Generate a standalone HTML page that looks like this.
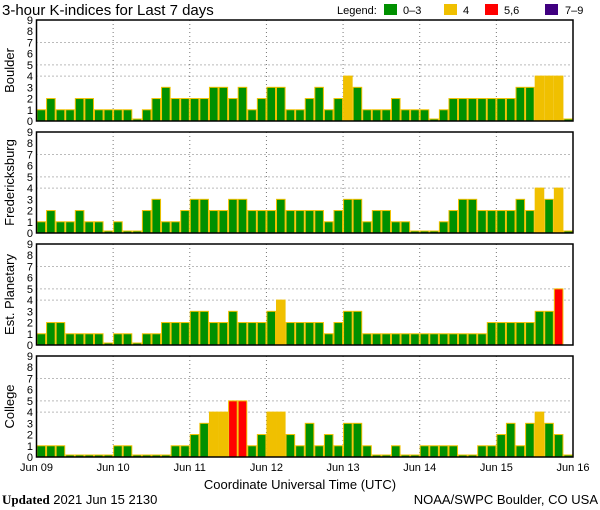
<!DOCTYPE html>
<html><head><meta charset="utf-8"><style>
body{margin:0;background:#fff}
svg{display:block;font-family:"Liberation Sans",sans-serif}
</style></head><body>
<svg id="c" width="600" height="510" viewBox="0 0 600 510">
<text x="2" y="15" font-size="15">3-hour K-indices for Last 7 days</text>
<g font-size="11">
<text x="337" y="14">Legend:</text>
<rect x="384" y="4" width="13" height="11" fill="#009000"/><text x="403" y="14">0–3</text>
<rect x="444" y="4" width="13" height="11" fill="#f0c000"/><text x="463" y="14">4</text>
<rect x="485" y="4" width="13" height="11" fill="#ff0000"/><text x="504" y="14">5,6</text>
<rect x="545" y="4" width="13" height="11" fill="#400080"/><text x="565" y="14">7–9</text>
</g>
<text x="300" y="489" font-size="13" text-anchor="middle">Coordinate Universal Time (UTC)</text>
<text x="2" y="504" font-size="13"><tspan font-weight="bold" font-family="Liberation Serif,serif">Updated</tspan> 2021 Jun 15 2130</text>
<text x="598" y="504" font-size="13" text-anchor="end">NOAA/SWPC Boulder, CO USA</text>
</svg>
<script>
const stations = ["Boulder","Fredericksburg","Est. Planetary","College"];
const dayLabels = ["Jun 09","Jun 10","Jun 11","Jun 12","Jun 13","Jun 14","Jun 15","Jun 16"];
const yTicks = [0,1,2,3,4,5,6,7,8,9];
const boulder = [1,2,1,1,2,2,1,1, 1,1,0,1,2,3,2,2, 2,2,3,3,2,3,1,2, 3,3,1,1,2,3,1,2, 4,3,1,1,1,2,1,1, 1,0,1,2,2,2,2,2, 2,2,3,3,4,4,4,0];
const fredericksburg = [1,2,1,1,2,1,1,0, 1,0,0,2,3,1,1,2, 3,3,2,2,3,3,2,2, 2,3,2,2,2,2,1,2, 3,3,1,2,2,1,1,0, 0,0,1,2,3,3,2,2, 2,2,3,2,4,3,4,0];
const planetary = [1,2,2,1,1,1,1,0, 1,1,0,1,1,2,2,2, 3,3,2,2,3,2,2,2, 3,4,2,2,2,2,1,2, 3,3,1,1,1,1,1,1, 1,1,1,1,1,1,1,2, 2,2,2,2,3,3,5,null];
const college = [1,1,1,0,0,0,0,0, 1,1,0,0,0,0,1,1, 2,3,4,4,5,5,1,2, 4,4,2,1,3,1,2,1, 3,3,1,0,0,1,0,0, 1,1,1,1,0,0,1,1, 2,3,1,3,4,3,2,0];
const series = [boulder,fredericksburg,planetary,college];

const NS="http://www.w3.org/2000/svg";
const svg=document.getElementById('c');
const X0=36.5,X1=573,N=56,PTOP=[20,132,244,356],PH=101;
const xs=i=>X0+(X1-X0)*i/N;
function mk(t,a,p){const e=document.createElementNS(NS,t);for(const k in a)e.setAttribute(k,a[k]);(p||svg).appendChild(e);return e;}
function col(v){return v>=7?"#400080":v>=5?"#ff0000":v>=4?"#f0c000":"#009000";}
series.forEach((data,p)=>{
  const top=PTOP[p],bot=top+PH;
  const ys=v=>bot-PH*v/9;
  const g=mk('g',{});
  
  
  [4,5,7].forEach(v=>{const l=mk('line',{x1:X0,x2:X1,y1:ys(v),y2:ys(v),stroke:'#777','stroke-dasharray':'1,3'},g);
    
    });
  for(let d=1;d<7;d++){const l=mk('line',{x1:xs(d*8),x2:xs(d*8),y1:top,y2:bot,stroke:'#777','stroke-dasharray':'1,3'},g);
    
    }
  data.forEach((v,i)=>{
    if(v===null)return;
    const h=v===0?2:PH*v/9;
    const r=mk('rect',{x:xs(i)+0.5,y:bot-h,width:(X1-X0)/N-1,height:h,fill:col(v),stroke:'#f0c000','stroke-width':1},g);
    
    
  });
  const f=mk('rect',{x:X0,y:top,width:X1-X0,height:PH,fill:'none',stroke:'#000','stroke-width':1.5},g);
  
  
  yTicks.forEach(v=>{const t=mk('text',{x:33,y:ys(v)+4,'font-size':11,'text-anchor':'end'},g);t.textContent=v;
    
    });
  const lab=mk('text',{x:0,y:0,'font-size':13,'text-anchor':'middle',transform:`translate(14,${top+PH/2}) rotate(-90)`},g);
  lab.textContent=stations[p];
  
  
});
dayLabels.forEach((s,d)=>{const t=mk('text',{x:xs(d*8),y:471,'font-size':11,'text-anchor':'middle'});t.textContent=s;
  
  });
</script>
</body></html>
